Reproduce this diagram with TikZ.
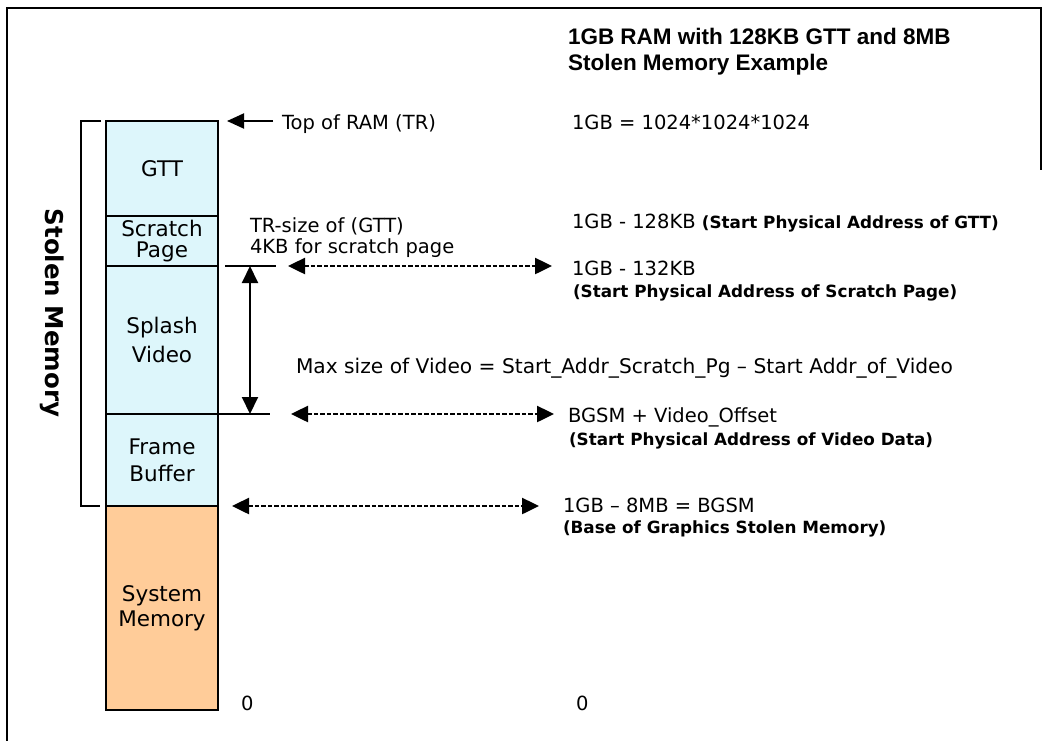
\documentclass[tikz,border=0pt]{standalone}
\usepackage{fontspec}
\usetikzlibrary{arrows.meta,calc}
\newfontfamily\dvfont{DejaVu Sans}
\newfontfamily\libfont{Liberation Sans}
\definecolor{cyanfill}{HTML}{DDF6FB}
\definecolor{peach}{HTML}{FFCC99}
\begin{document}
\begin{tikzpicture}[x=1pt,y=1pt,
  block/.style={draw=black, line width=2pt, minimum width=112pt, inner sep=0pt, outer sep=0pt,
    anchor=north, align=center, font=\dvfont\fontsize{21.5}{26}\selectfont},
  body/.style={inner sep=0pt, outer sep=0pt, anchor=base west, font=\dvfont\fontsize{19.5}{22}\selectfont},
  bodyb/.style={inner sep=0pt, outer sep=0pt, anchor=base west, font=\dvfont\bfseries\fontsize{16.8}{19}\selectfont},
  titletext/.style={inner sep=0pt, outer sep=0pt, anchor=base west, font=\libfont\bfseries\fontsize{22.5}{25}\selectfont},
  tipone/.style={-{Triangle[length=17pt,width=15pt]}},
  tiptwo/.style={{Triangle[length=17pt,width=16pt]}-{Triangle[length=17pt,width=16pt]}},
  dashedarrow/.style={tiptwo, line width=2.5pt, dash pattern=on 4.5pt off 2pt},
]
\useasboundingbox (0,0) rectangle (1055,-740);
\fill[white] (0,0) rectangle (1055,-740);

% outer frame
\draw[line width=2pt] (7,-745) -- (7,-8) -- (1041,-8) -- (1041,-170);

% memory column
\node[block, fill=cyanfill, minimum height=95pt] (gtt) at (162,-121) {GTT};
\node[block, fill=cyanfill, minimum height=50pt, font=\dvfont\fontsize{21.5}{21}\selectfont] (scratch) at (gtt.south) {Scratch\\Page};
\node[block, fill=cyanfill, minimum height=148pt, font=\dvfont\fontsize{21.5}{29}\selectfont] (splash) at (scratch.south) {Splash\\Video};
\node[block, fill=cyanfill, minimum height=92pt, font=\dvfont\fontsize{21.5}{27}\selectfont] (frame) at (splash.south) {Frame\\Buffer};
\node[block, fill=peach, minimum height=204pt, font=\dvfont\fontsize{21.5}{25}\selectfont] (sysmem) at (frame.south) {System\\Memory};

% stolen memory bracket
\draw[line width=2pt] ($(gtt.north west)+(-5,0)$) -- (81,-121) -- (81,-506) -- ($(frame.south west)+(-6,0)$);
\node[inner sep=0pt, anchor=base, rotate=-90, font=\dvfont\bfseries\fontsize{24.5}{28}\selectfont] (stolen) at (45,-313) {Stolen Memory};

% title
\node[titletext] (title1) at (568,-44) {1GB RAM with 128KB GTT and 8MB};
\node[titletext] (title2) at (568,-70) {Stolen Memory Example};

% top of RAM
\node[body] (toptext) at (282,-129) {Top of RAM (TR)};
\coordinate (trtail) at (273,-121);
\draw[tipone, line width=2pt] (trtail) -- ($(gtt.north east)+(9,0)$);
\node[body] (onegb) at (572,-129) {1GB = 1024*1024*1024};

% GTT start
\node[body] (trsize) at (250,-232) {TR-size of (GTT)};
\node[body] (fourkb) at (250,-253) {4KB for scratch page};
\node[body] (gttaddr) at (572,-228) {1GB - 128KB {\bfseries\fontsize{16.8}{19}\selectfont (Start Physical Address of GTT)}};

% scratch page start
\node[body] (scraddr) at (572,-275) {1GB - 132KB};
\node[bodyb] (scrdesc) at (573,-297) {(Start Physical Address of Scratch Page)};

% ticks and vertical arrow
\draw[line width=2pt] ($(splash.north east)+(7,0)$) -- ($(splash.north east)+(58,0)$);
\draw[line width=2pt] (splash.south east) -- ($(splash.south east)+(52,0)$);
\draw[tiptwo, line width=2pt] ($(splash.north east)+(32,0)$) -- ($(splash.south east)+(32,0)$);

% dashed arrows
\draw[dashedarrow] ($(splash.north east)+(70,0)$) -- ($(splash.north east)+(334,0)$);
\draw[dashedarrow] ($(frame.north east)+(73,0)$) -- ($(frame.north east)+(336,0)$);
\draw[dashedarrow] ($(sysmem.north east)+(14,0)$) -- ($(sysmem.north east)+(321,0)$);

% max size
\node[body, font=\dvfont\fontsize{20.2}{22}\selectfont] (maxsize) at (296,-373) {Max size of Video = Start\_Addr\_Scratch\_Pg – Start Addr\_of\_Video};

% video data
\node[body] (vidaddr) at (568,-422) {BGSM + Video\_Offset};
\node[bodyb] (viddesc) at (569,-445) {(Start Physical Address of Video Data)};

% BGSM
\node[body] (bgsm) at (563,-512) {1GB – 8MB = BGSM};
\node[bodyb] (bgsmdesc) at (563,-533) {(Base of Graphics Stolen Memory)};

% zeros
\node[body] (zeroa) at (241,-710) {0};
\node[body] (zerob) at (576,-710) {0};
\end{tikzpicture}
\end{document}
